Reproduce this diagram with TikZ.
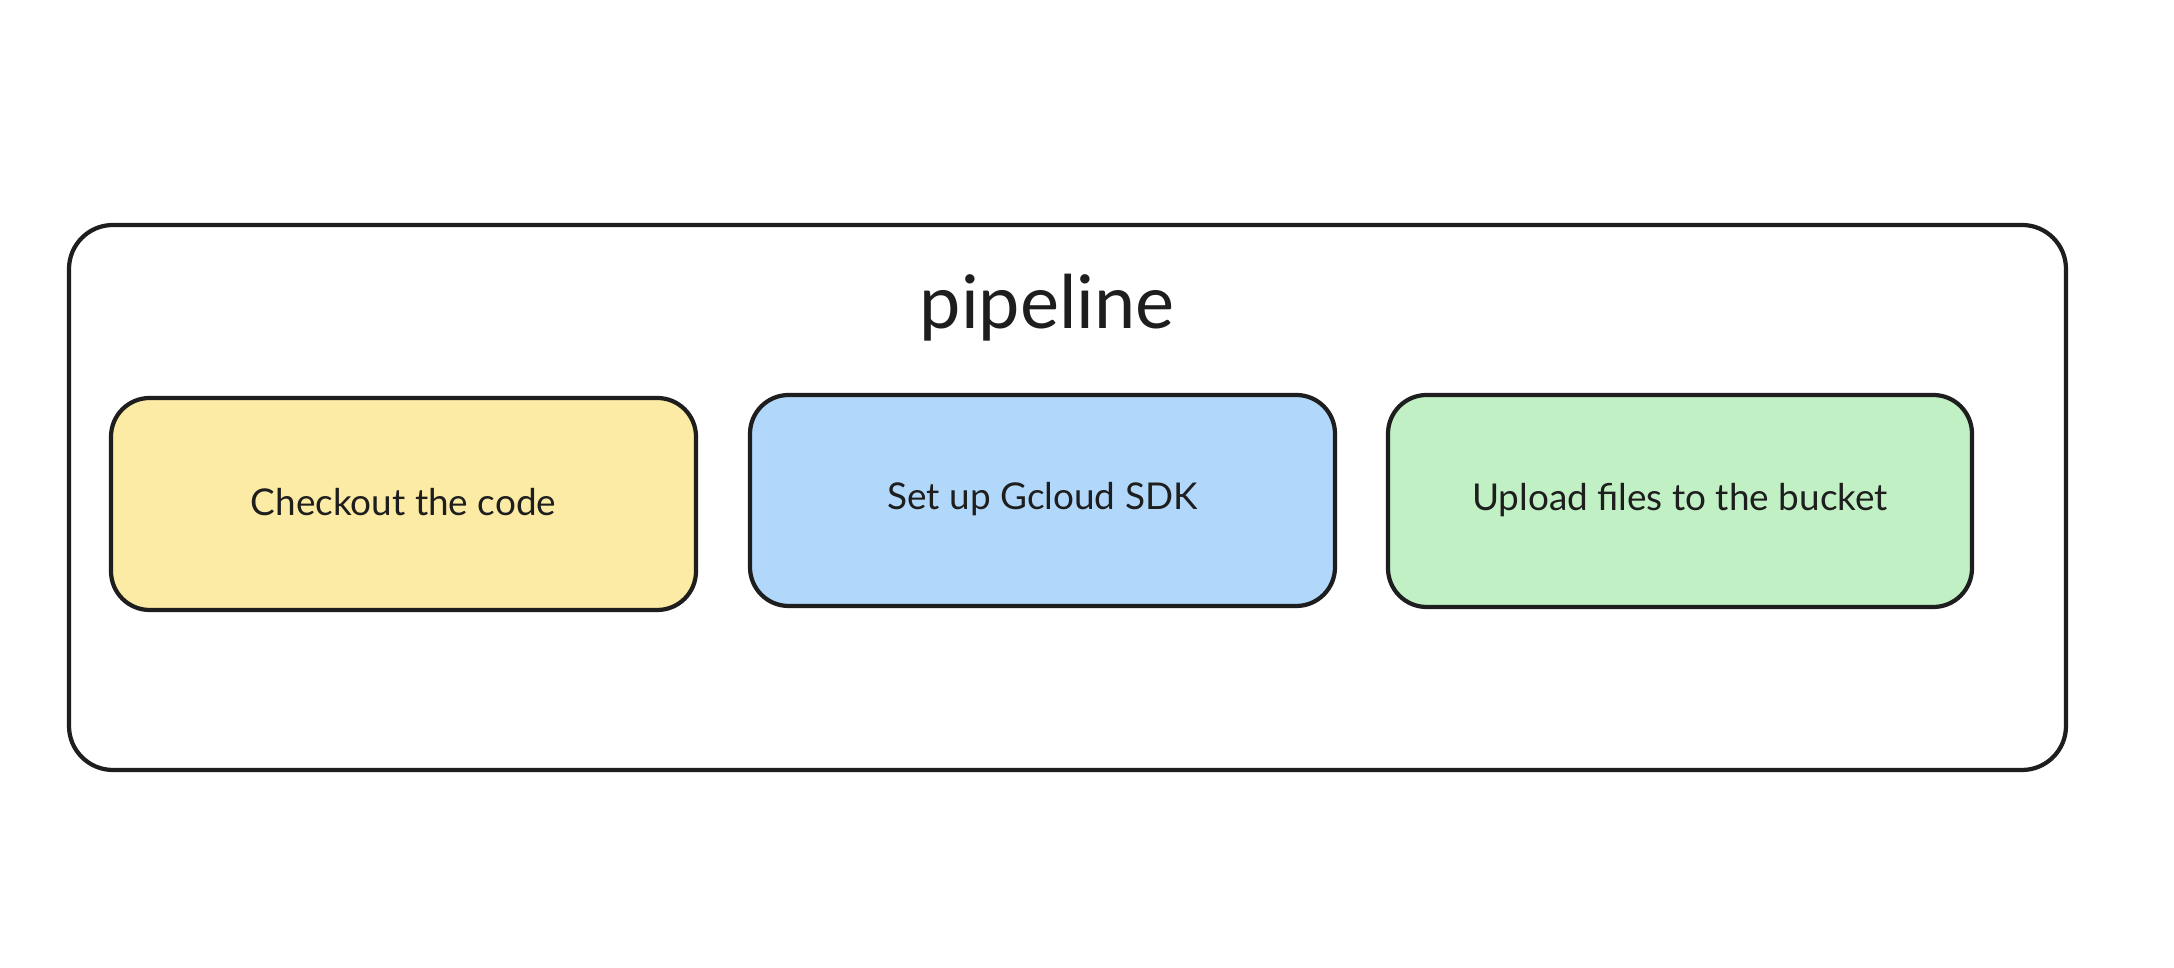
\documentclass[tikz,border=0pt]{standalone}
\usepackage{fontspec}
\setmainfont{Lato}
\definecolor{strokec}{HTML}{1E1E1E}
\definecolor{yellowf}{HTML}{FCEBA4}
\definecolor{bluef}{HTML}{B1D8FB}
\definecolor{greenf}{HTML}{C0F0C3}
\tikzset{
  stepbox/.style={draw=strokec, line width=1.2pt, rounded corners=11pt},
  steptext/.style={text=strokec, font=\fontsize{10.5}{12}\selectfont},
  groupbox/.style={draw=strokec, line width=1.2pt, rounded corners=12.5pt}
}
\begin{document}
\begin{tikzpicture}[x=0.01cm,y=-0.01cm]
\useasboundingbox[fill=white] (0,0) rectangle (2174,968);
\draw[groupbox] (69,225) rectangle (2066,770);
\node[text=strokec, font=\fontsize{21}{24}\selectfont] (title) at (1047,308) {pipeline};
\draw[stepbox, fill=yellowf] (111,398) rectangle (696,610);
\node[steptext] (checkout) at (403.5,502) {Checkout the code};
\draw[stepbox, fill=bluef] (750,395) rectangle (1335,606);
\node[steptext] (gcloud) at (1042.5,499) {Set up Gcloud SDK};
\draw[stepbox, fill=greenf] (1388,395) rectangle (1972,607);
\node[steptext] (upload) at (1680,500) {Upload files to the bucket};
\end{tikzpicture}
\end{document}
